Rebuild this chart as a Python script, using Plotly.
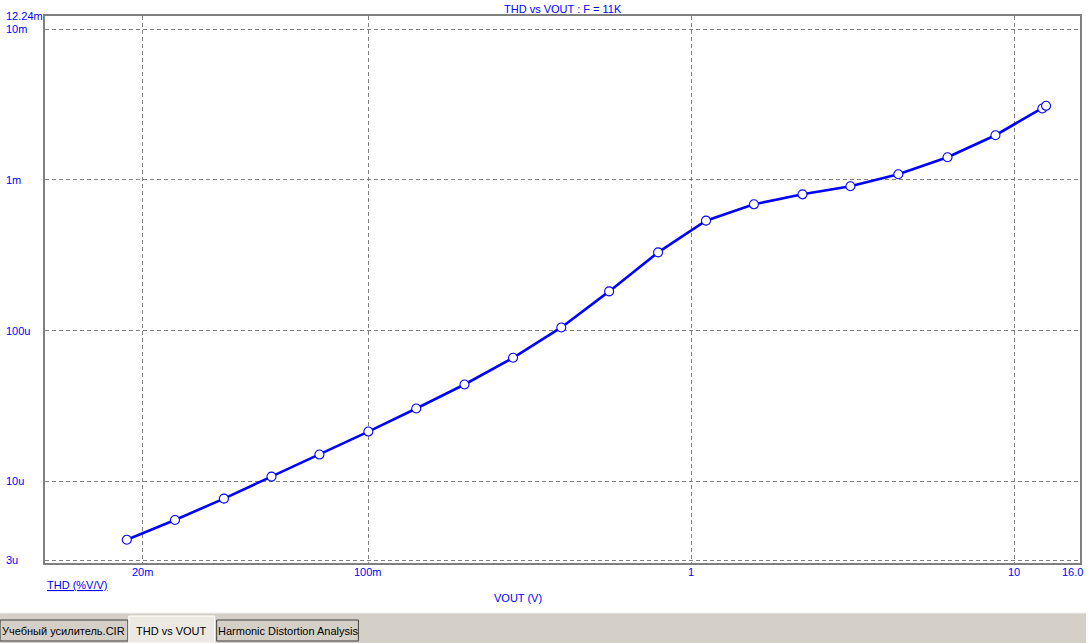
import plotly.graph_objects as go
import math

# ---- data ----
vout = [0.01786, 0.02518, 0.03570, 0.05012, 0.07054, 0.1000, 0.1407, 0.1985,
        0.2806, 0.3959, 0.5569, 0.7896, 1.111, 1.564, 2.211, 3.112, 4.379,
        6.22, 8.755, 12.23, 12.56]
thd = [4.09e-6, 5.53e-6, 7.66e-6, 1.073e-5, 1.503e-5, 2.136e-5, 3.037e-5,
       4.385e-5, 6.596e-5, 1.0486e-4, 1.819e-4, 3.304e-4, 5.364e-4, 6.884e-4,
       8.02e-4, 9.07e-4, 1.0895e-3, 1.413e-3, 1.979e-3, 2.977e-3, 3.102e-3]

x_tickvals = [0.02, 0.1, 1, 10]
x_ticktext = ["20m", "100m", "1", "10"]
x_end_val, x_end_text = 16, "16.0"
y_tickvals = [3e-6, 1e-5, 1e-4, 1e-3, 1e-2, 12.24e-3]
y_ticktext = ["3u", "10u", "100u", "1m", "10m", "12.24m"]

title_text = "THD vs VOUT : F = 11K"
x_title = "VOUT (V)"
y_title = "THD (%V/V)"
tabs = ["Учебный усилитель.CIR", "THD vs VOUT", "Harmonic Distortion Analysis"]

# ---- layout geometry ----
W, H = 1088, 643
L, R, T, B = 45, 1082, 16, 563
PW, PH = R - L, B - T


def px(x):
    return (x - L) / PW


def py(y):
    return (B - y) / PH


FONT = "Liberation Sans, Arial, sans-serif"
BLUE = "#0000ff"
GRID = "#808080"

fig = go.Figure()
fig.add_trace(go.Scatter(
    x=vout, y=thd, mode="lines+markers",
    line=dict(color=BLUE, width=2.6),
    marker=dict(symbol="circle", size=9, color="white",
                line=dict(color=BLUE, width=1.1)),
    showlegend=False, hoverinfo="x+y",
))

fig.update_layout(
    width=W, height=H,
    margin=dict(l=L, r=W - R, t=T, b=H - B),
    paper_bgcolor="white", plot_bgcolor="white",
    font=dict(family=FONT, size=11, color=BLUE),
    showlegend=False,
)

fig.update_xaxes(
    type="log", range=[-2.0015, math.log10(16)],
    tickvals=x_tickvals, showticklabels=False,
    showgrid=True, gridcolor=GRID, griddash="4px,3px", gridwidth=1,
    showline=True, linecolor=GRID, linewidth=2, mirror=True,
    ticks="", zeroline=False,
)
fig.update_yaxes(
    type="log", range=[math.log10(3e-6) - 3 / 150.66, math.log10(12.24e-3)],
    tickvals=y_tickvals[:-1], showticklabels=False,
    showgrid=True, gridcolor=GRID, griddash="4px,3px", gridwidth=1,
    showline=True, linecolor=GRID, linewidth=2, mirror=True,
    ticks="", zeroline=False,
)

ann = []
tick_font = dict(family=FONT, size=11, color=BLUE)
# y tick labels, left aligned at x ~ 5px
for v, t in zip(y_tickvals, y_ticktext):
    ann.append(dict(x=px(4), xref="paper", y=math.log10(v), yref="y",
                    text=t, showarrow=False, xanchor="left", yanchor="middle",
                    font=tick_font))
# x tick labels
for v, t in zip(x_tickvals, x_ticktext):
    ann.append(dict(x=math.log10(v), xref="x", y=py(572), yref="paper",
                    text=t, showarrow=False, xanchor="center", yanchor="middle",
                    font=tick_font))
# end label of x axis (kept inside the window)
ann.append(dict(x=px(1087), xref="paper", y=py(572), yref="paper",
                text=x_end_text, showarrow=False, xanchor="right", yanchor="middle",
                font=tick_font))
# title
ann.append(dict(x=0.5, xref="paper", y=py(9), yref="paper", text=title_text,
                showarrow=False, xanchor="center", yanchor="middle",
                font=tick_font))
# x axis title
ann.append(dict(x=px(519), xref="paper", y=py(598), yref="paper", text=x_title,
                showarrow=False, xanchor="center", yanchor="middle",
                font=tick_font))
# y axis title (underlined, bottom left)
ann.append(dict(x=px(45), xref="paper", y=py(585), yref="paper",
                text="<u>" + y_title + "</u>",
                showarrow=False, xanchor="left", yanchor="middle",
                font=tick_font))

shapes = []
# tab strip background
shapes.append(dict(type="rect", xref="paper", yref="paper",
                   x0=px(0), x1=px(W), y0=py(H), y1=py(613),
                   fillcolor="#d4d0c8", line=dict(width=0), layer="below"))
shapes.append(dict(type="line", xref="paper", yref="paper",
                   x0=px(0), x1=px(W), y0=py(613), y1=py(613),
                   line=dict(color="#f0f0f0", width=1)))
tab_boxes = [(0, 128, 620, 641, False), (129, 215, 616, 643, True), (217, 359, 620, 641, False)]
for (x0, x1, y0, y1, sel), label in zip(tab_boxes, tabs):
    shapes.append(dict(type="rect", xref="paper", yref="paper",
                       x0=px(x0), x1=px(x1), y0=py(y1), y1=py(y0),
                       fillcolor="#ece9e2" if sel else "#d4d0c8",
                       line=dict(color="#ffffff" if sel else "#404040", width=1)))
    ann.append(dict(x=px((x0 + x1) / 2), xref="paper",
                    y=py((y0 + y1) / 2 + (1 if sel else 0)), yref="paper",
                    text=label, showarrow=False, xanchor="center", yanchor="middle",
                    font=dict(family=FONT, size=11, color="#000000")))

fig.update_layout(annotations=ann, shapes=shapes)
fig.write_html(
    "out.html",
    config={"displayModeBar": False},
    post_script="document.body.style.margin='0';document.body.style.overflow='hidden';",
)
